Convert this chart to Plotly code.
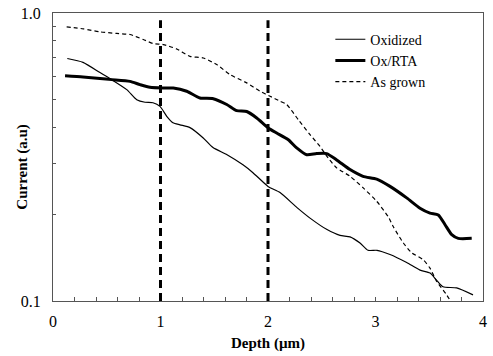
import plotly.graph_objects as go

# Oxidized (thin solid)
ox_depth = [0.133, 0.279, 0.437, 0.546, 0.686, 0.779, 0.856, 0.930, 0.995, 1.058, 1.116, 1.181,
            1.274, 1.395, 1.488, 1.619, 1.767, 1.860, 2.000, 2.112, 2.270, 2.391, 2.549, 2.670,
            2.763, 2.856, 2.930, 3.014, 3.135, 3.290, 3.414, 3.507, 3.569, 3.628, 3.755, 3.907]
ox_current = [0.695, 0.674, 0.621, 0.587, 0.542, 0.500, 0.490, 0.488, 0.474, 0.438, 0.416, 0.409,
              0.400, 0.369, 0.341, 0.322, 0.297, 0.279, 0.250, 0.238, 0.211, 0.194, 0.177, 0.169,
              0.167, 0.159, 0.150, 0.150, 0.145, 0.136, 0.128, 0.125, 0.118, 0.112, 0.111, 0.105]

# Ox/RTA (thick solid)
rta_depth = [0.112, 0.279, 0.437, 0.546, 0.716, 0.809, 0.902, 1.023, 1.119, 1.244, 1.367, 1.491,
             1.616, 1.709, 1.802, 1.895, 2.003, 2.081, 2.189, 2.267, 2.360, 2.453, 2.546, 2.639,
             2.763, 2.884, 3.011, 3.135, 3.290, 3.414, 3.507, 3.584, 3.647, 3.709, 3.770, 3.895]
rta_current = [0.606, 0.600, 0.592, 0.587, 0.579, 0.564, 0.552, 0.549, 0.549, 0.535, 0.507, 0.504,
               0.481, 0.458, 0.455, 0.432, 0.399, 0.383, 0.363, 0.340, 0.322, 0.325, 0.325, 0.309,
               0.286, 0.271, 0.265, 0.250, 0.228, 0.210, 0.202, 0.199, 0.184, 0.170, 0.165, 0.165]

# As grown (dashed)
ag_depth = [0.127, 0.282, 0.437, 0.593, 0.716, 0.840, 0.933, 1.026, 1.151, 1.274, 1.398, 1.523,
            1.647, 1.802, 1.926, 2.019, 2.112, 2.174, 2.282, 2.391, 2.484, 2.561, 2.639, 2.763,
            2.886, 3.011, 3.119, 3.166, 3.259, 3.337, 3.445, 3.507, 3.569, 3.662, 3.740]
ag_current = [0.895, 0.881, 0.860, 0.849, 0.842, 0.809, 0.783, 0.777, 0.750, 0.707, 0.698, 0.662,
              0.611, 0.572, 0.535, 0.514, 0.494, 0.481, 0.426, 0.378, 0.344, 0.313, 0.290, 0.271,
              0.247, 0.222, 0.196, 0.181, 0.159, 0.147, 0.139, 0.130, 0.117, 0.105, 0.094]

marker_depths = [1, 2]
x_ticks = [0, 1, 2, 3, 4]
y_ticks = [0.1, 1.0]
y_tick_labels = ["0.1", "1.0"]
y_minor = [0.2, 0.3, 0.4, 0.5, 0.6, 0.7, 0.8, 0.9]

FONT = "'Liberation Serif', 'Times New Roman', Times, serif"

fig = go.Figure()
fig.add_trace(go.Scatter(x=ox_depth, y=ox_current, mode="lines", name="Oxidized",
                         line=dict(color="black", width=1.2, shape="spline", smoothing=0.6)))
fig.add_trace(go.Scatter(x=rta_depth, y=rta_current, mode="lines", name="Ox/RTA",
                         line=dict(color="black", width=3, shape="spline", smoothing=0.6)))
fig.add_trace(go.Scatter(x=ag_depth, y=ag_current, mode="lines", name="As grown",
                         line=dict(color="black", width=1.2, dash="4px,3px", shape="spline", smoothing=0.6)))

for d in marker_depths:
    fig.add_shape(type="line", xref="x", yref="paper", x0=d, x1=d, y0=0, y1=0.975,
                  line=dict(color="black", width=3, dash="8px,5px"))

fig.add_annotation(text="<b>Current (a.u)</b>", textangle=-90, xref="paper", yref="paper",
                   x=-0.07, y=0.466, xanchor="center", yanchor="middle", showarrow=False,
                   font=dict(family=FONT, size=15, color="black"))

fig.update_layout(
    width=493, height=356,
    margin=dict(l=53, r=10, t=13, b=55),
    paper_bgcolor="white", plot_bgcolor="white",
    font=dict(family=FONT, size=16, color="black"),
    showlegend=True,
    legend=dict(x=0.645, y=0.963, xanchor="left", yanchor="top",
                bgcolor="rgba(0,0,0,0)", font=dict(family=FONT, size=14),
                tracegroupgap=0, itemwidth=30),
    xaxis=dict(range=[0, 4], tickvals=x_ticks, ticks="inside", ticklen=4,
               showline=True, linecolor="#555", linewidth=1, mirror=True,
               showgrid=False, zeroline=False, ticklabelstandoff=6, automargin=False,
               minor=dict(dtick=0.2, ticks="inside", ticklen=4, tickcolor="#555"),
               tickcolor="#555",
               title=dict(text="<b>Depth (µm)</b>", font=dict(family=FONT, size=15), standoff=8)),
    yaxis=dict(type="log", range=[-1, 0], tickvals=y_ticks, ticktext=y_tick_labels,
               ticks="inside", ticklen=4, tickcolor="#555",
               showline=True, linecolor="#555", linewidth=1, mirror=True,
               showgrid=False, zeroline=False, ticklabelstandoff=8, automargin=False,
               minor=dict(tickvals=y_minor, ticks="inside", ticklen=3, tickcolor="#555")),
)

fig.write_html("out.html")
